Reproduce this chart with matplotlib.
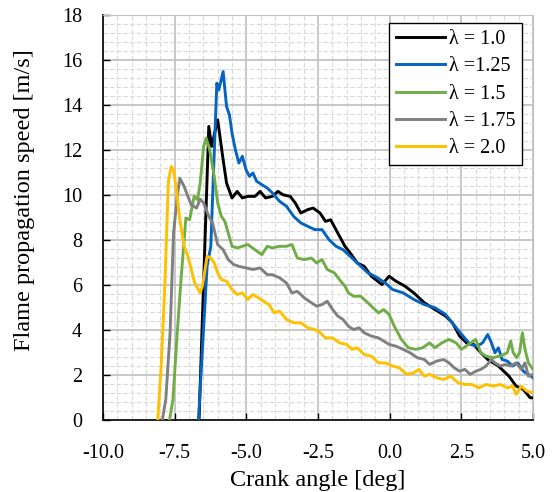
import matplotlib.pyplot as plt
from matplotlib.ticker import MultipleLocator

plt.rcParams['font.family'] = ['Liberation Serif', 'DejaVu Serif']
plt.rcParams['axes.unicode_minus'] = False

# crank angle [deg] / flame speed [m/s]
x_l10 = [-6.65, -6.31, -6.21, -6.0, -5.81, -5.69, -5.5, -5.32, -5.14, -4.95, -4.7, -4.52,
         -4.33, -4.09, -3.9, -3.72, -3.47, -3.29, -3.1, -2.86, -2.67, -2.43, -2.24, -2.06,
         -1.81, -1.56, -1.38, -1.13, -0.89, -0.64, -0.27, -0.02, 0.22, 0.53, 0.84, 1.21,
         1.58, 1.95, 2.19, 2.44, 2.68, 2.93, 3.18, 3.42, 3.79, 4.16, 4.41, 4.66, 4.9, 5.0]
y_l10 = [0, 13.05, 12.16, 13.34, 11.57, 10.53, 9.87, 10.16, 9.87, 9.94, 9.94, 10.16,
         9.87, 9.94, 10.16, 10.01, 9.94, 9.64, 9.2, 9.35, 9.42, 9.2, 8.83, 8.9,
         8.31, 7.72, 7.43, 6.98, 6.83, 6.39, 6.02, 6.39, 6.17, 5.95, 5.65, 5.21,
         4.91, 4.62, 4.32, 3.73, 3.43, 3.36, 2.99, 2.69, 2.4, 1.95, 1.51, 1.36, 0.99, 0.99]

x_l125 = [-6.67, -6.37, -6.24, -6.03, -5.96, -5.81, -5.69, -5.59, -5.5, -5.38, -5.26, -5.14,
          -5.01, -4.89, -4.77, -4.64, -4.46, -4.27, -4.09, -3.84, -3.6, -3.35, -3.1, -2.86,
          -2.61, -2.36, -2.12, -1.87, -1.63, -1.38, -1.13, -0.76, -0.52, -0.15, 0.1, 0.47,
          0.84, 1.21, 1.58, 1.95, 2.32, 2.56, 2.81, 3.05, 3.24, 3.42, 3.55, 3.67, 3.79,
          3.92, 4.1, 4.29, 4.47, 4.66, 4.84, 5.0]
y_l125 = [0, 6.83, 7.72, 14.97, 14.67, 15.49, 13.93, 13.56, 12.75, 12.0, 11.42, 11.72,
          11.12, 10.83, 10.98, 10.61, 10.46, 10.31, 10.09, 9.72, 9.5, 9.05, 8.76, 8.61,
          8.46, 8.46, 8.02, 7.72, 7.57, 7.28, 6.98, 6.54, 6.39, 6.09, 5.8, 5.65,
          5.36, 5.13, 4.99, 4.69, 4.1, 3.73, 3.36, 3.28, 3.43, 3.8, 3.43, 2.99, 3.21,
          2.69, 2.62, 2.4, 2.54, 2.17, 2.03, 1.88]

x_l15 = [-7.68, -7.56, -7.41, -7.27, -7.11, -6.98, -6.82, -6.7, -6.61, -6.49, -6.4, -6.28,
         -6.12, -6.0, -5.87, -5.75, -5.63, -5.5, -5.32, -5.14, -4.95, -4.7, -4.46, -4.27,
         -4.09, -3.84, -3.6, -3.41, -3.22, -2.98, -2.73, -2.55, -2.36, -2.18, -1.93, -1.75,
         -1.56, -1.44, -1.26, -1.01, -0.76, -0.58, -0.39, -0.21, -0.02, 0.16, 0.41, 0.65,
         0.9, 1.15, 1.39, 1.58, 1.82, 2.07, 2.32, 2.5, 2.75, 3.0, 3.18, 3.36, 3.61, 3.92,
         4.1, 4.22, 4.31, 4.43, 4.53, 4.63, 4.72, 4.84, 5.0]
y_l15 = [0, 0.92, 3.88, 6.39, 8.98, 8.9, 9.94, 9.79, 10.53, 12.16, 12.53, 12.01,
         10.83, 9.64, 9.05, 8.83, 8.31, 7.72, 7.65, 7.72, 7.8, 7.57, 7.35, 7.72,
         7.65, 7.72, 7.72, 7.8, 7.2, 7.13, 7.2, 6.98, 7.13, 6.69, 6.54, 6.24,
         5.95, 5.65, 5.5, 5.5, 5.21, 4.99, 4.76, 4.91, 4.69, 4.17, 3.58, 3.21,
         3.14, 3.21, 3.43, 3.21, 3.43, 3.58, 3.43, 3.14, 3.36, 3.58, 2.99, 2.84, 2.77, 2.87,
         2.99, 3.51, 2.99, 2.77, 2.99, 3.88, 3.14, 2.54, 2.25]

x_l175 = [-7.93, -7.81, -7.66, -7.54, -7.41, -7.32, -7.17, -7.04, -6.92, -6.74, -6.61, -6.49,
          -6.31, -6.18, -6.0, -5.81, -5.63, -5.44, -5.26, -5.01, -4.77, -4.52, -4.27, -4.09,
          -3.84, -3.6, -3.41, -3.22, -2.98, -2.73, -2.55, -2.36, -2.18, -1.99, -1.81, -1.63,
          -1.44, -1.26, -1.07, -0.89, -0.64, -0.39, -0.21, -0.02, 0.22, 0.47, 0.71, 0.96,
          1.21, 1.39, 1.64, 1.88, 2.07, 2.25, 2.44, 2.62, 2.81, 3.0, 3.18, 3.36, 3.55, 3.67,
          3.86, 4.04, 4.22, 4.41, 4.59, 4.72, 4.84, 5.0]
y_l175 = [0, 0.92, 3.88, 8.31, 9.94, 10.75, 10.38, 9.94, 9.57, 9.42, 9.82, 9.64,
          9.05, 8.76, 7.8, 7.57, 7.13, 6.91, 6.83, 6.76, 6.69, 6.76, 6.46, 6.46,
          6.32, 6.09, 5.65, 5.72, 5.43, 5.21, 5.06, 5.13, 5.28, 4.91, 4.62, 4.47,
          4.17, 4.02, 4.1, 3.88, 3.73, 3.65, 3.51, 3.36, 3.28, 3.14, 2.99, 2.77,
          2.69, 2.47, 2.62, 2.69, 2.54, 2.32, 2.17, 2.25, 2.03, 2.17, 2.25, 2.4, 2.69, 2.54,
          2.4, 2.47, 2.4, 2.54, 2.25, 2.54, 1.95, 2.03]

x_l20 = [-8.09, -7.97, -7.84, -7.72, -7.62, -7.54, -7.44, -7.32, -7.17, -7.04, -6.92, -6.8,
         -6.61, -6.53, -6.37, -6.24, -6.12, -6.0, -5.87, -5.69, -5.5, -5.32, -5.14, -4.95,
         -4.77, -4.58, -4.4, -4.21, -4.03, -3.84, -3.6, -3.35, -3.1, -2.86, -2.61, -2.43,
         -2.24, -1.99, -1.75, -1.5, -1.32, -1.13, -0.89, -0.64, -0.39, -0.15, 0.1, 0.34,
         0.59, 0.84, 1.02, 1.21, 1.39, 1.64, 1.88, 2.13, 2.38, 2.62, 2.87, 3.11, 3.36, 3.61,
         3.86, 4.1, 4.29, 4.41, 4.59, 4.78, 5.0]
y_l20 = [0, 2.4, 6.09, 10.61, 11.27, 11.12, 10.24, 8.9, 7.72, 7.28, 6.69, 6.09,
         5.65, 5.95, 7.28, 7.2, 6.98, 6.54, 6.24, 6.17, 5.8, 5.58, 5.65, 5.36,
         5.58, 5.43, 5.28, 5.13, 4.76, 4.84, 4.47, 4.32, 4.32, 4.1, 4.02, 3.88,
         3.65, 3.65, 3.43, 3.36, 3.14, 3.21, 2.91, 2.84, 2.54, 2.54, 2.4, 2.32,
         2.03, 2.1, 2.25, 1.95, 2.03, 1.88, 1.8, 1.95, 1.66, 1.58, 1.58, 1.43, 1.58, 1.51,
         1.58, 1.43, 1.51, 1.14, 1.51, 1.29, 1.21]

labels = ["λ = 1.0", "λ =1.25", "λ = 1.5", "λ = 1.75", "λ = 2.0"]
colors = ["#000000", "#0563C1", "#70AD47", "#808080", "#FFC000"]

fig = plt.figure(figsize=(5.55, 4.92), dpi=100)
ax = fig.add_axes([0.1856, 0.1463, 0.7748, 0.8232])

series = [(x_l10, y_l10), (x_l125, y_l125), (x_l15, y_l15), (x_l175, y_l175), (x_l20, y_l20)]
for (xs, ys), lab, col in zip(series, labels, colors):
    ax.plot(xs, ys, color=col, lw=2.1, label=lab, zorder=3)

ax.set_xlim(-10, 5)
ax.set_ylim(0, 18)
ax.xaxis.set_major_locator(MultipleLocator(2.5))
ax.xaxis.set_minor_locator(MultipleLocator(0.5))
ax.yaxis.set_major_locator(MultipleLocator(2))
ax.yaxis.set_minor_locator(MultipleLocator(0.4))
ax.xaxis.set_major_formatter(plt.FuncFormatter(lambda v, p: f"{v:.1f}"))
ax.yaxis.set_major_formatter(plt.FuncFormatter(lambda v, p: f"{v:.0f}"))

ax.grid(which='major', color='#BFBFBF', lw=1.2, ls='-')
ax.grid(which='minor', color='#D9D9D9', lw=0.8, ls=(0, (4, 2)))
ax.set_axisbelow(True)

ax.tick_params(which='major', direction='in', length=5, width=1, colors='black',
               labelsize=14.5)
ax.tick_params(axis='x', pad=17)
ax.tick_params(axis='y', pad=15)
ax.tick_params(which='minor', length=0)
for side in ['top', 'right']:
    ax.spines[side].set_color('#BFBFBF')
for side in ['left', 'bottom']:
    ax.spines[side].set_color('black')
    ax.spines[side].set_linewidth(1.2)

ax.set_xlabel("Crank angle [deg]", fontsize=17.5, labelpad=5)
ax.set_ylabel("Flame propagation speed [m/s]", fontsize=17.5)
ax.yaxis.set_label_coords(-0.158, 0.543)

leg = ax.legend(loc='upper right', bbox_to_anchor=(0.975, 0.98), borderaxespad=0,
                fontsize=14.5, frameon=True, fancybox=False, handlelength=2.4,
                handletextpad=0.2, labelspacing=0.4, borderpad=0.35)
leg.get_frame().set_edgecolor('black')
leg.get_frame().set_linewidth(1.0)
leg.get_frame().set_alpha(1)

fig.savefig("out.png", dpi=100)
